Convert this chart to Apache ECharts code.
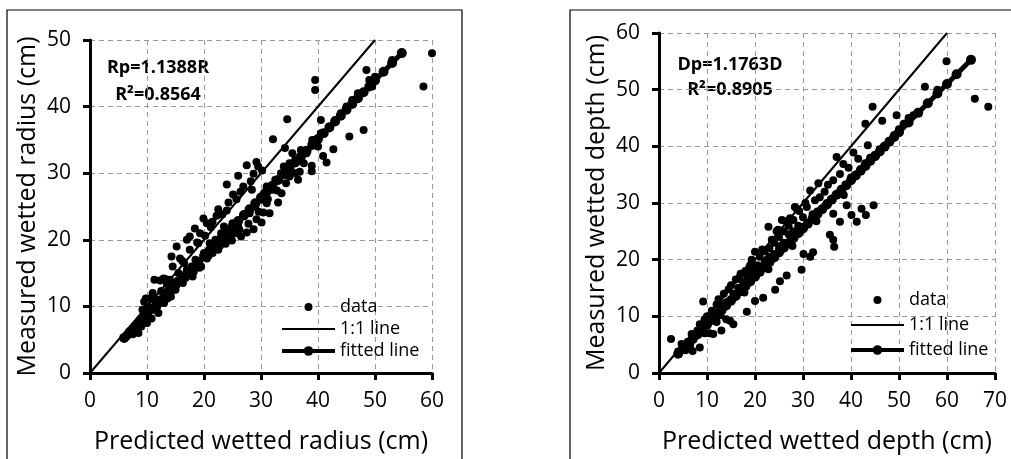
<!DOCTYPE html>
<html>
<head>
<meta charset="utf-8">
<script src="https://cdn.jsdelivr.net/npm/echarts@6/dist/echarts.min.js"></script>
<style>
  html, body { margin: 0; padding: 0; background: #fff; }
  #chart { width: 1011px; height: 459px; }
</style>
</head>
<body>
<div id="chart"></div>
<script>
// left panel: wetted radius, [predicted, measured]
const radiusData = [
  [6.5, 5.5], [7, 6], [7.5, 5.8], [8, 6.5], [8, 7.2], [8.5, 6], [8.8, 8], [9, 7], [9.2, 9.5], [9.5, 8.5],
  [9.5, 10.7], [9.8, 11.2], [10, 7.5], [10, 9], [10.2, 10], [10.5, 11.2], [10.8, 8.2], [11, 9.5], [11, 12], [11.3, 14],
  [11.5, 10.5], [12, 11], [12, 9], [12.3, 13.9], [12.5, 12.3], [12.9, 14.2], [13, 10.5], [13.2, 11.8], [13.5, 13.4], [13.8, 12.5],
  [14, 14], [14.2, 11.5], [14.3, 17.5], [14.5, 16], [14.8, 13], [15, 12.5], [15.2, 19], [15.5, 15], [15.8, 17.2], [16, 14],
  [16.3, 13.5], [16.5, 16.5], [17, 20], [17, 15.5], [17.5, 18.5], [17.5, 20.5], [17.8, 16], [18, 14.5], [18.4, 21.7], [18.5, 17],
  [19, 19.5], [19.3, 21], [19.5, 16], [19.9, 23.2], [20, 18], [20.5, 22.5], [20.5, 17.2], [21, 19.5], [21.5, 22.7], [21.5, 18],
  [22, 20], [22.2, 23.6], [22.5, 24.6], [22.5, 18.5], [23, 21], [23, 19.5], [23.5, 22], [24, 24.4], [24, 28.3], [24, 20],
  [24.3, 25.6], [24.9, 19.9], [25, 22.5], [25.1, 26.8], [25.5, 21], [25.7, 26.1], [26, 29.6], [26, 22], [26.5, 20.5], [26.9, 28],
  [27, 23.5], [27.5, 31.2], [27.5, 21.1], [28, 24], [28.4, 27.5], [28.7, 29.9], [28.7, 21.6], [29, 25], [29.2, 31.7], [29.2, 23.1],
  [29.5, 31], [30, 26], [30.1, 22.6], [30.4, 24.1], [30.5, 27], [31, 28], [31, 25.5], [31.5, 24], [32, 27.5], [32.1, 35.1],
  [32.5, 29], [33, 25.6], [33.5, 30], [33.6, 27], [34, 31], [34.2, 33.8], [34.6, 38.1], [35, 29.5], [35, 31.5], [35.5, 33],
  [36, 32], [36, 30], [36.5, 29], [37, 33.5], [37.5, 31.5], [38, 33], [38.9, 31.1], [38.9, 30.3], [39.5, 44], [39.5, 42.5],
  [39, 35], [40, 34], [40.5, 38], [40.5, 36], [40.9, 32.6], [41.5, 31.6], [42, 37], [42.7, 33.6], [43, 38], [44, 39],
  [45, 40], [45.5, 35.5], [46, 41], [47, 42], [48, 36.5], [48.5, 45.5], [49, 44], [49.5, 43], [50, 44.5], [51.5, 45.3],
  [53, 47], [58.5, 43], [60, 48],
  [11.8, 10], [12.7, 10.8], [13.6, 11.2], [15.3, 13.8], [16.8, 14.3], [18.2, 15.2], [19.2, 15.8], [20.8, 17.6], [22.8, 19.1], [23.8, 19.4],
  [24.6, 20.8], [26.2, 21.5], [27.8, 22.4], [29.6, 24.2], [31.2, 26.1], [32.8, 27.4], [34.4, 28.5], [36.8, 30.2], [18.8, 19.6], [21.2, 21.9],
  [23.2, 23.8], [26.4, 27.2], [28.2, 28.8], [30.2, 30.4], [16.2, 16.8], [13.2, 14.1], [20.2, 20.6]
];
const radiusOneToOne = [[0, 0], [50, 50]];
const radiusFitX = [6, 7, 8, 9, 10, 11, 12, 13, 14, 15, 16, 17, 18, 19, 20, 21, 22, 23, 24, 25, 26, 27, 28, 29, 30,
  31, 32, 33, 34, 35, 36, 37, 38, 39, 40, 41, 42, 43, 44, 45, 46, 47, 48, 49, 50, 51.5, 53, 54.7];
const radiusFitY = [5.27, 6.15, 7.02, 7.90, 8.78, 9.66, 10.54, 11.42, 12.29, 13.17, 14.05, 14.93, 15.81, 16.68, 17.56,
  18.44, 19.32, 20.20, 21.07, 21.95, 22.83, 23.71, 24.59, 25.47, 26.34, 27.22, 28.10, 28.98, 29.86, 30.73, 31.61, 32.49,
  33.37, 34.25, 35.12, 36.00, 36.88, 37.76, 38.64, 39.52, 40.39, 41.27, 42.15, 43.03, 43.91, 45.22, 46.54, 48.03];

// right panel: wetted depth, [predicted, measured]
const depthData = [
  [2.5, 6], [4, 3.8], [4.7, 5.1], [5, 4.5], [5.5, 4], [6, 5.5], [6.5, 5], [6.8, 6.9], [7, 3.9], [7.5, 6.5],
  [8, 7.5], [8.5, 8.6], [8.5, 4.5], [9, 8], [9.2, 12.6], [9.5, 7], [9.5, 9.5], [10, 8.5], [10, 10], [10.6, 9.8],
  [10.5, 7], [11, 9.5], [11, 11], [11.3, 6.9], [11.5, 10.5], [12, 12.1], [12, 9], [12.4, 13], [12.5, 11], [13, 7.5],
  [13, 12], [13.5, 11.5], [13.5, 14], [14, 12.5], [14, 9.5], [14.8, 9.2], [15, 13], [15, 15.5], [15.5, 8.6], [15.5, 14],
  [16, 13.5], [16, 16.5], [16.5, 15], [17, 14.5], [17, 17.5], [17.5, 16], [18, 15.5], [18, 18], [18.3, 10.8], [18.5, 17],
  [19, 16.5], [19, 19], [19.3, 20], [19.5, 18], [20, 17.5], [20, 21.4], [20, 12.7], [20.5, 19], [21, 18], [21, 20.5],
  [21.7, 13.3], [22, 19.5], [22, 21.5], [22.5, 20], [22.8, 25.8], [23, 22], [23, 20.5], [23.5, 23.5], [24, 21], [24, 23],
  [24.2, 14.7], [24.5, 25], [25, 22], [25, 24], [25.2, 16.2], [25.6, 27], [25.5, 22.5], [26, 25], [26, 23], [26.6, 17.2],
  [27, 24.5], [27, 26], [27.3, 27.3], [27.5, 23.5], [28, 25], [28, 27], [28.3, 29.3], [28.5, 24.5], [28.7, 29], [29, 26],
  [29.5, 25], [29.7, 18.2], [30, 27.5], [30, 25.8], [30.1, 21], [30.5, 30], [30.8, 29.3], [31, 26.5], [31.5, 32.2], [31.5, 20.5],
  [32, 28], [32.1, 21.3], [32.5, 30.5], [33, 28.5], [33.5, 31], [34, 29], [34.5, 32], [35, 30], [35.6, 24.4], [36, 30.6],
  [36.3, 34], [36.3, 23.5], [36.5, 22.3], [36.3, 28.1], [37, 31.5], [37.7, 35.1], [37.7, 26.7], [38, 32.5], [38.4, 36.9], [37, 38.1],
  [39, 33], [39.1, 29.6], [40, 34.5], [40.1, 27.9], [40.5, 38.9], [41, 35], [41.2, 26.7], [42, 36], [42.2, 29], [43, 37],
  [43, 44], [43.1, 27.9], [44, 38], [44.5, 47], [44.7, 29.6], [45, 38.5], [46, 39.5], [47, 40], [48, 41], [49, 42],
  [50, 43], [51, 44], [52, 45], [53, 45.5], [55.4, 50.5], [58, 50], [59.9, 55], [65.8, 48.4], [68.6, 47],
  [14.5, 14.8], [16.8, 16.9], [18.8, 18.6], [21.5, 21.8], [24.8, 25.3], [26.5, 26.8], [29.2, 28.6], [33.2, 33.5], [35.2, 33.2], [39.5, 36.2],
  [41.5, 37.8], [43.5, 40.2], [46.5, 44.5], [49.5, 45.5], [12.8, 10.2], [17.8, 14.2], [22.8, 18.3], [27.8, 22.4], [32.8, 26.8], [38.5, 31.4]
];
const depthOneToOne = [[0, 0], [60, 60]];
const depthFitX = [4, 5, 6, 7, 8, 9, 10, 11, 12, 13, 14, 15, 16, 17, 18, 19, 20, 21, 22, 23, 24, 25, 26, 27, 28, 29,
  30, 31, 32, 33, 34, 35, 36, 37, 38, 39, 40, 41, 42, 43, 44, 45, 46, 47, 48, 49, 50, 52, 54, 56, 58, 60, 62, 65];
const depthFitY = [3.40, 4.25, 5.10, 5.95, 6.80, 7.65, 8.50, 9.35, 10.20, 11.05, 11.90, 12.75, 13.60, 14.45, 15.30,
  16.15, 17.00, 17.85, 18.70, 19.55, 20.40, 21.25, 22.10, 22.95, 23.80, 24.65, 25.50, 26.35, 27.20, 28.05, 28.90, 29.75,
  30.60, 31.45, 32.30, 33.15, 34.00, 34.85, 35.70, 36.55, 37.40, 38.25, 39.10, 39.95, 40.80, 41.65, 42.50, 44.20, 45.91,
  47.61, 49.31, 51.01, 52.71, 55.26];

const font = 'Open Sans';
// small dot inside an invisible 12x12 box, so the legend dot is smaller than the row height
const dotIcon = 'path://M-6,-6L-6,-6M6,6L6,6M-4,0A4,4 0 1,0 4,0A4,4 0 1,0 -4,0Z';
const legendNames = [
  { name: 'data', icon: dotIcon },
  { name: '1:1 line', itemStyle: { opacity: 0 } },
  { name: 'fitted line', lineStyle: { width: 4 } },
];

const zip = (xs, ys) => xs.map((x, i) => [x, ys[i]]);

const axisCommon = {
  type: 'value',
  min: 0,
  interval: 10,
  nameLocation: 'middle',
  nameTextStyle: { color: '#000', fontSize: 25, fontFamily: font },
  axisLine: { show: true, onZero: false, lineStyle: { color: '#000', width: 3 } },
  axisTick: { show: true, length: 7, lineStyle: { color: '#000', width: 3 } },
  splitLine: { show: true, lineStyle: { color: '#999', type: [5, 4], width: 1 } },
};

const makeX = (idx, max, name) => ({
  ...axisCommon,
  gridIndex: idx,
  max,
  name,
  nameGap: 56,
  axisLabel: { color: '#000', fontSize: 21, fontFamily: font, margin: 18 },
});

const makeY = (idx, max, name) => ({
  ...axisCommon,
  gridIndex: idx,
  max,
  name,
  nameGap: 50,
  axisLabel: { color: '#000', fontSize: 21, fontFamily: font, margin: 19 },
});

const makeSeries = (idx, points, oneToOne, fit) => [
  {
    name: 'data',
    type: 'scatter',
    xAxisIndex: idx,
    yAxisIndex: idx,
    symbolSize: 8,
    itemStyle: { color: '#000', opacity: 1 },
    data: points,
    z: 2,
  },
  {
    name: '1:1 line',
    type: 'line',
    xAxisIndex: idx,
    yAxisIndex: idx,
    symbol: 'none',
    itemStyle: { color: '#000' },
    lineStyle: { color: '#000', width: 2 },
    data: oneToOne,
    z: 3,
  },
  {
    name: 'fitted line',
    type: 'line',
    xAxisIndex: idx,
    yAxisIndex: idx,
    symbol: 'circle',
    symbolSize: 10,
    itemStyle: { color: '#000' },
    lineStyle: { color: '#000', width: 5 },
    data: fit,
    z: 4,
  },
];

const noteStyle = text => ({ text, font: `bold 18px "${font}"`, fill: '#000', align: 'center', verticalAlign: 'middle' });

const chart = echarts.init(document.getElementById('chart'));
chart.setOption({
  animation: false,
  backgroundColor: '#fff',
  grid: [
    { left: 90, right: 579, top: 40, bottom: 86 },
    { left: 659, right: 16, top: 33, bottom: 83 },
  ],
  xAxis: [
    makeX(0, 60, 'Predicted wetted radius (cm)'),
    makeX(1, 70, 'Predicted wetted depth (cm)'),
  ],
  yAxis: [
    makeY(0, 50, 'Measured wetted radius (cm)'),
    makeY(1, 60, 'Measured wetted depth (cm)'),
  ],
  legend: [
    {
      data: legendNames, orient: 'vertical', left: 275, top: 293,
      itemWidth: 53, itemHeight: 12, itemGap: 4,
      textStyle: { color: '#000', fontSize: 18, fontFamily: font },
      selectedMode: false,
    },
    {
      data: legendNames, orient: 'vertical', left: 844, top: 286,
      itemWidth: 53, itemHeight: 12, itemGap: 7,
      textStyle: { color: '#000', fontSize: 18, fontFamily: font },
      selectedMode: false,
    },
  ],
  graphic: [
    { type: 'rect', shape: { x: 7, y: 10, width: 455, height: 470 }, style: { fill: 'none', stroke: '#000', lineWidth: 1.2 }, z: -1 },
    { type: 'rect', shape: { x: 570, y: 10, width: 460, height: 470 }, style: { fill: 'none', stroke: '#000', lineWidth: 1.2 }, z: -1 },
    { type: 'text', x: 158, y: 68, style: noteStyle('Rp=1.1388R') },
    { type: 'text', x: 158, y: 95, style: noteStyle('R²=0.8564') },
    { type: 'text', x: 730, y: 65, style: noteStyle('Dp=1.1763D') },
    { type: 'text', x: 730, y: 90, style: noteStyle('R²=0.8905') },
  ],
  series: [
    ...makeSeries(0, radiusData, radiusOneToOne, zip(radiusFitX, radiusFitY)),
    ...makeSeries(1, depthData, depthOneToOne, zip(depthFitX, depthFitY)),
  ],
});
</script>
</body>
</html>
